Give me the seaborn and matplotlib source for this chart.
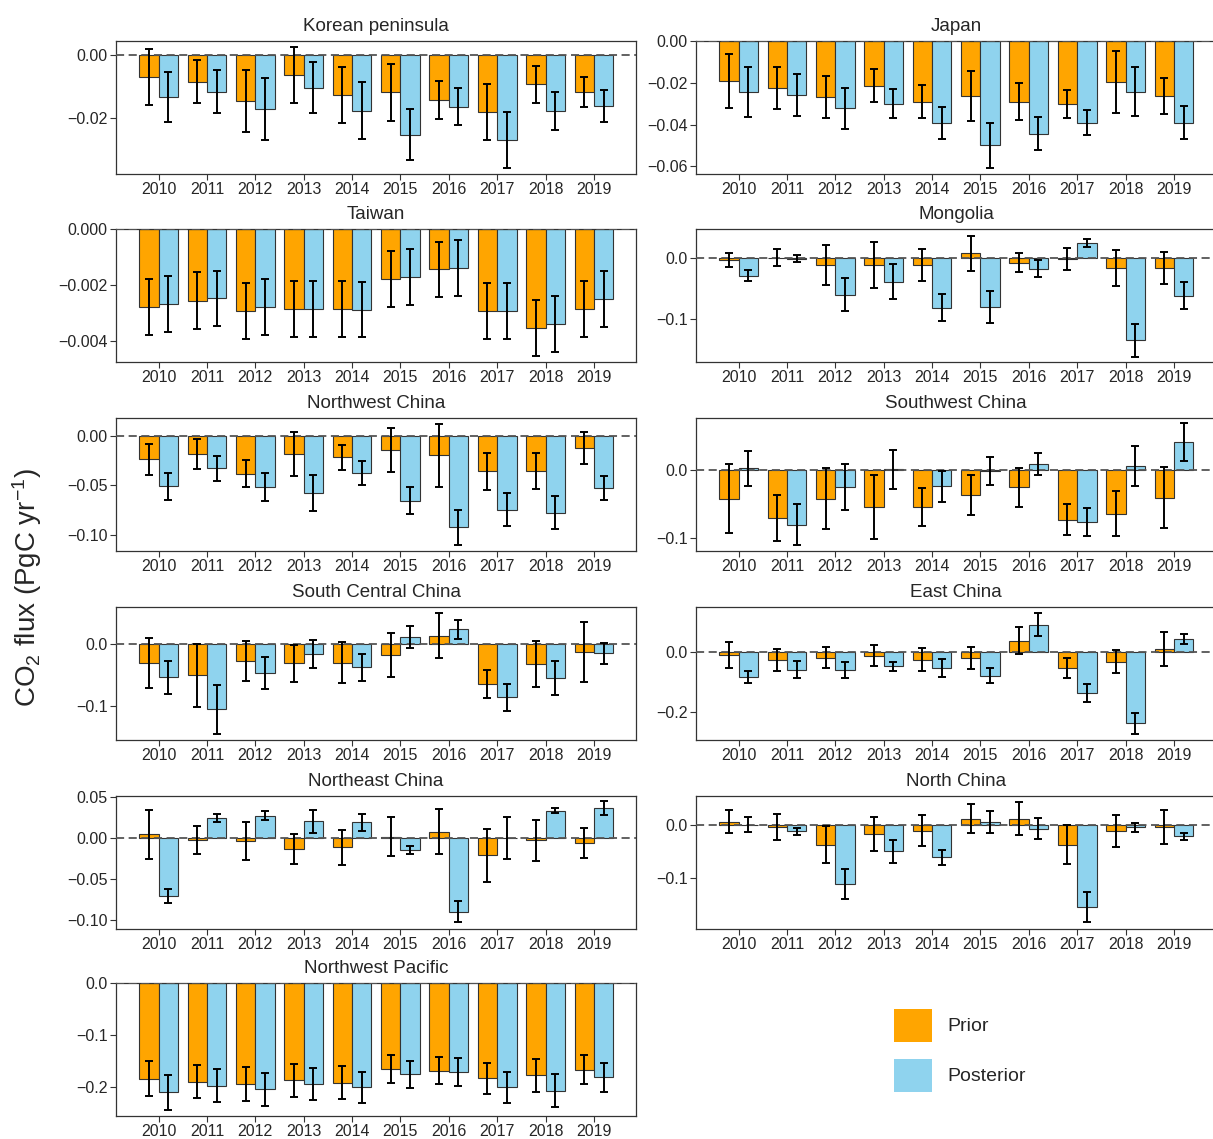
import matplotlib
matplotlib.use("Agg")
import matplotlib.pyplot as plt
from matplotlib.patches import Patch
from matplotlib.ticker import FuncFormatter
import pandas as pd
import seaborn as sns

years = [str(y) for y in range(2010, 2020)]

# bar values (PgC/yr) and error half-widths
prior = {
    "Korean peninsula": [-0.0071, -0.0086, -0.0147, -0.0065, -0.0128, -0.0120, -0.0143, -0.0182, -0.0094, -0.0119],
    "Japan": [-0.0191, -0.0225, -0.0268, -0.0215, -0.0291, -0.0264, -0.0291, -0.0302, -0.0196, -0.0264],
    "Taiwan": [-0.00280, -0.00258, -0.00293, -0.00286, -0.00288, -0.00178, -0.00145, -0.00295, -0.00355, -0.00286],
    "Mongolia": [-0.0038, -0.0005, -0.0120, -0.0120, -0.0120, 0.0071, -0.0088, -0.0016, -0.0170, -0.0170],
    "Northwest China": [-0.0237, -0.0183, -0.0380, -0.0183, -0.0217, -0.0139, -0.0197, -0.0356, -0.0356, -0.0125],
    "Southwest China": [-0.0419, -0.0704, -0.0419, -0.0537, -0.0537, -0.0365, -0.0246, -0.0724, -0.0635, -0.0399],
    "South Central China": [-0.0312, -0.0503, -0.0275, -0.0312, -0.0302, -0.0185, 0.0127, -0.0640, -0.0328, -0.0138],
    "East China": [-0.0110, -0.0264, -0.0187, -0.0121, -0.0264, -0.0209, 0.0374, -0.0538, -0.0330, 0.0088],
    "Northeast China": [0.0045, -0.0024, -0.0033, -0.0134, -0.0110, 0.0016, 0.0081, -0.0208, -0.0024, -0.0061],
    "North China": [0.0069, -0.0037, -0.0362, -0.0162, -0.0100, 0.0125, 0.0125, -0.0362, -0.0112, -0.0037],
    "Northwest Pacific": [-0.1846, -0.1904, -0.1942, -0.1878, -0.1923, -0.1654, -0.1692, -0.1840, -0.1782, -0.1673],
}
prior_err = {
    "Korean peninsula": [0.0088, 0.0069, 0.0099, 0.0088, 0.0089, 0.0090, 0.0060, 0.0090, 0.0059, 0.0049],
    "Japan": [0.0129, 0.0100, 0.0100, 0.0079, 0.0080, 0.0120, 0.0088, 0.0068, 0.0150, 0.0087],
    "Taiwan": [0.0010, 0.00102, 0.0010, 0.0010, 0.0010, 0.0010, 0.0010, 0.0010, 0.0010, 0.0010],
    "Mongolia": [0.0118, 0.0137, 0.0330, 0.0376, 0.0266, 0.0288, 0.0154, 0.0180, 0.0300, 0.0260],
    "Northwest China": [0.0158, 0.0149, 0.0137, 0.0219, 0.0127, 0.0225, 0.0315, 0.0188, 0.0183, 0.0161],
    "Southwest China": [0.0507, 0.0342, 0.0450, 0.0468, 0.0276, 0.0296, 0.0288, 0.0224, 0.0337, 0.0448],
    "South Central China": [0.0394, 0.0503, 0.0320, 0.0296, 0.0320, 0.0354, 0.0357, 0.0225, 0.0368, 0.0476],
    "East China": [0.0434, 0.0357, 0.0357, 0.0357, 0.0379, 0.0368, 0.0456, 0.0340, 0.0380, 0.0555],
    "Northeast China": [0.0300, 0.0167, 0.0232, 0.0179, 0.0210, 0.0238, 0.0271, 0.0320, 0.0249, 0.0183],
    "North China": [0.0219, 0.0240, 0.0356, 0.0319, 0.0287, 0.0278, 0.0316, 0.0362, 0.0303, 0.0316],
    "Northwest Pacific": [0.0333, 0.0314, 0.0327, 0.0314, 0.0317, 0.0266, 0.0260, 0.0301, 0.0311, 0.0276],
}
posterior = {
    "Korean peninsula": [-0.0134, -0.0118, -0.0172, -0.0105, -0.0178, -0.0254, -0.0165, -0.0272, -0.0178, -0.0163],
    "Japan": [-0.0243, -0.0259, -0.0323, -0.0301, -0.0392, -0.0500, -0.0444, -0.0392, -0.0243, -0.0392],
    "Taiwan": [-0.00269, -0.00249, -0.00280, -0.00286, -0.00289, -0.00171, -0.00139, -0.00295, -0.00342, -0.00252],
    "Mongolia": [-0.0302, -0.0016, -0.0610, -0.0396, -0.0820, -0.0808, -0.0181, 0.0242, -0.1357, -0.0626],
    "Northwest China": [-0.0508, -0.0329, -0.0519, -0.0580, -0.0376, -0.0654, -0.0925, -0.0746, -0.0776, -0.0529],
    "Southwest China": [0.0030, -0.0798, -0.0246, 0.0015, -0.0232, -0.0010, 0.0099, -0.0759, 0.0064, 0.0419],
    "South Central China": [-0.0534, -0.1048, -0.0466, -0.0169, -0.0376, 0.0101, 0.0228, -0.0857, -0.0545, -0.0153],
    "East China": [-0.0824, -0.0593, -0.0593, -0.0473, -0.0527, -0.0791, 0.0901, -0.1352, -0.2363, 0.0440],
    "Northeast China": [-0.0705, 0.0249, 0.0273, 0.0204, 0.0192, -0.0143, -0.0892, 0.0000, 0.0334, 0.0371],
    "North China": [0.0012, -0.0112, -0.1100, -0.0487, -0.0600, 0.0062, -0.0062, -0.1537, -0.0037, -0.0206],
    "Northwest Pacific": [-0.2109, -0.1981, -0.2051, -0.1942, -0.2013, -0.1763, -0.1712, -0.2013, -0.2077, -0.1814],
}
posterior_err = {
    "Korean peninsula": [0.0079, 0.0069, 0.0099, 0.0080, 0.0090, 0.0080, 0.0059, 0.0089, 0.0060, 0.0051],
    "Japan": [0.0119, 0.0100, 0.0100, 0.0069, 0.0078, 0.0109, 0.0080, 0.0060, 0.0118, 0.0079],
    "Taiwan": [0.0010, 0.0010, 0.0010, 0.0010, 0.0010, 0.0010, 0.0010, 0.0010, 0.0010, 0.0010],
    "Mongolia": [0.0090, 0.0055, 0.0270, 0.0283, 0.0222, 0.0264, 0.0137, 0.0063, 0.0264, 0.0220],
    "Northwest China": [0.0137, 0.0124, 0.0142, 0.0181, 0.0122, 0.0137, 0.0178, 0.0164, 0.0171, 0.0122],
    "Southwest China": [0.0264, 0.0298, 0.0340, 0.0293, 0.0227, 0.0202, 0.0163, 0.0202, 0.0290, 0.0276],
    "South Central China": [0.0262, 0.0392, 0.0254, 0.0220, 0.0212, 0.0175, 0.0148, 0.0212, 0.0267, 0.0164],
    "East China": [0.0192, 0.0275, 0.0264, 0.0148, 0.0302, 0.0242, 0.0385, 0.0297, 0.0340, 0.0165],
    "Northeast China": [0.0086, 0.0051, 0.0057, 0.0141, 0.0102, 0.0045, 0.0132, 0.0253, 0.0033, 0.0086],
    "North China": [0.0140, 0.0066, 0.0284, 0.0216, 0.0138, 0.0213, 0.0194, 0.0284, 0.0084, 0.0066],
    "Northwest Pacific": [0.0337, 0.0314, 0.0314, 0.0304, 0.0304, 0.0263, 0.0269, 0.0292, 0.0314, 0.0279],
}

left_col = ["Korean peninsula", "Taiwan", "Northwest China", "South Central China",
            "Northeast China", "Northwest Pacific"]
right_col = ["Japan", "Mongolia", "Southwest China", "East China", "North China"]

# axis settings per panel: (ylim, ticks, format)
yaxis = {
    "Korean peninsula": ((-0.0379, 0.0043), [0.0, -0.02], "%.2f"),
    "Japan": ((-0.0637, 0.0), [0.0, -0.02, -0.04, -0.06], "%.2f"),
    "Taiwan": ((-0.00477, 0.0), [0.0, -0.002, -0.004], "%.3f"),
    "Mongolia": ((-0.171, 0.0467), [0.0, -0.1], "%.1f"),
    "Northwest China": ((-0.1166, 0.0183), [0.0, -0.05, -0.10], "%.2f"),
    "Southwest China": ((-0.1187, 0.0773), [0.0, -0.1], "%.1f"),
    "South Central China": ((-0.1534, 0.0582), [0.0, -0.1], "%.1f"),
    "East China": ((-0.291, 0.148), [0.0, -0.2], "%.1f"),
    "Northeast China": ((-0.1104, 0.0513), [0.05, 0.0, -0.05, -0.10], "%.2f"),
    "North China": ((-0.195, 0.055), [0.0, -0.1], "%.1f"),
    "Northwest Pacific": ((-0.2564, 0.0), [0.0, -0.1, -0.2], "%.1f"),
}

colors = {"Prior": "#FFA500", "Posterior": "#8FD3EE"}

sns.set_style("ticks")
plt.rcParams["font.family"] = ["Liberation Sans", "DejaVu Sans"]
plt.rcParams["mathtext.default"] = "regular"
plt.rcParams["axes.edgecolor"] = "#333333"

W, H = 1213, 1139
fig = plt.figure(figsize=(W / 100, H / 100), dpi=100)

row_tops = [41, 229, 418, 607, 796, 983]
ax_h = 133
ax_w = 520


def tick_fmt(fmt):
    return FuncFormatter(lambda v, pos: (fmt % v).replace("-", "\u2212"))


def draw_panel(region, x0, top):
    ax = fig.add_axes([x0 / W, 1 - (top + ax_h) / H, ax_w / W, ax_h / H])
    df = pd.DataFrame({
        "year": years * 2,
        "flux": prior[region] + posterior[region],
        "kind": ["Prior"] * len(years) + ["Posterior"] * len(years),
    })
    sns.barplot(data=df, x="year", y="flux", hue="kind", hue_order=["Prior", "Posterior"],
                palette=colors, saturation=1, edgecolor="#333333", linewidth=0.8, width=0.8,
                errorbar=None, legend=False, ax=ax)
    for cont, errs in zip(ax.containers, [prior_err[region], posterior_err[region]]):
        xs = [b.get_x() + b.get_width() / 2 for b in cont]
        ys = [b.get_y() + b.get_height() for b in cont]
        ax.errorbar(xs, ys, yerr=errs, fmt="none", ecolor="black", elinewidth=1.4,
                    capsize=3, capthick=1.4, zorder=5)
    ax.axhline(0, color="#555555", linestyle=(0, (4.5, 2.5)), linewidth=1.3, zorder=4)
    ylim, ticks, fmt = yaxis[region]
    ax.set_ylim(*ylim)
    ax.set_yticks(ticks)
    ax.yaxis.set_major_formatter(tick_fmt(fmt))
    ax.set_xlim(-0.88, 9.87)
    ax.set_xlabel("")
    ax.set_ylabel("")
    ax.set_title(region, fontsize=13.5, pad=7)
    ax.tick_params(labelsize=11.5, length=4, width=0.8, color="#333333", pad=2)
    for s in ax.spines.values():
        s.set_visible(True)
        s.set_linewidth(0.9)
    return ax


for i, region in enumerate(left_col):
    draw_panel(region, 116, row_tops[i])
for i, region in enumerate(right_col):
    draw_panel(region, 696, row_tops[i])

fig.text(27 / W, 1 - 588 / H, "CO$_2$ flux (PgC yr$^{-1}$)", rotation=90,
         fontsize=20, ha="center", va="center")

handles = [Patch(facecolor=colors[k], edgecolor="none", label=k) for k in ["Prior", "Posterior"]]
fig.legend(handles=handles, loc="upper left", bbox_to_anchor=(894 / W, 1 - 1009 / H),
           frameon=False, fontsize=14, handlelength=1.95, handleheight=2.2,
           labelspacing=0.9, handletextpad=0.8, borderpad=0, borderaxespad=0)

fig.savefig("out.png", dpi=100)
